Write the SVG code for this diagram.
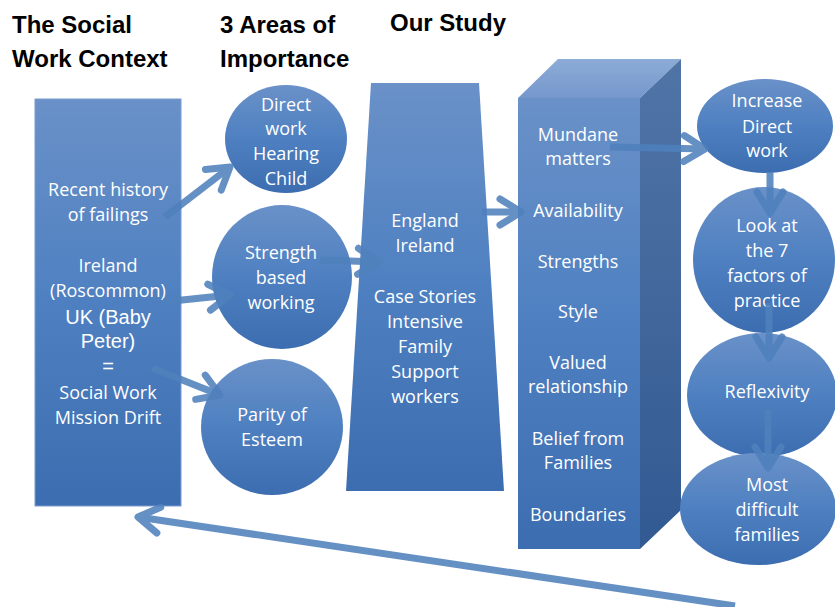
<svg xmlns="http://www.w3.org/2000/svg" width="835" height="607" viewBox="0 0 835 607">
<defs>
<linearGradient id="g" x1="0" y1="0" x2="0" y2="1">
<stop offset="0" stop-color="#6A91C8"/>
<stop offset="0.5" stop-color="#4E80C1"/>
<stop offset="1" stop-color="#3C6DB0"/>
</linearGradient>
<linearGradient id="gTop" x1="0" y1="0" x2="0" y2="1">
<stop offset="0" stop-color="#8CABD6"/>
<stop offset="1" stop-color="#7598CC"/>
</linearGradient>
<linearGradient id="gSide" x1="0" y1="0" x2="0" y2="1">
<stop offset="0" stop-color="#5074A6"/>
<stop offset="1" stop-color="#325A92"/>
</linearGradient>
<marker id="ah" markerUnits="userSpaceOnUse" markerWidth="40" markerHeight="40" viewBox="0 0 40 40" refX="32" refY="20" orient="auto">
<path d="M11,7 L32,20 L11,33" fill="none" stroke="#4F81BD" stroke-width="7" stroke-linecap="round" stroke-linejoin="round"/>
</marker>
<style>
.title{font-family:"Liberation Sans",Arial,sans-serif;font-weight:bold;font-size:24px;fill:#000}
.t{font-family:"Open Sans","Liberation Sans",sans-serif;font-size:18px;fill:#fff;text-anchor:middle}
.ta{font-family:"Liberation Sans",Arial,sans-serif;font-size:20px;fill:#fff;text-anchor:middle}
.shape{fill:url(#g)}
.conn line{stroke:#4F81BD;stroke-width:7;opacity:0.88;marker-end:url(#ah)}
</style>
</defs>
<rect width="835" height="607" fill="#fff"/>
<g id="titles">
<text class="title" x="12" y="33">The Social</text>
<text class="title" x="12" y="67">Work Context</text>
<text class="title" x="220" y="33">3 Areas of</text>
<text class="title" x="220" y="67">Importance</text>
<text class="title" x="390" y="31">Our Study</text>
</g>
<g id="context">
<rect class="shape" x="35" y="99" width="146" height="407" stroke="#7A9CD0" stroke-width="1"/>
<text class="t" x="108" y="196">Recent history</text>
<text class="t" x="108" y="221">of failings</text>
<text class="t" x="108" y="272">Ireland</text>
<text class="t" x="108" y="297">(Roscommon)</text>
<text class="ta" x="108" y="324">UK (Baby</text>
<text class="ta" x="108" y="348">Peter)</text>
<text class="ta" x="108" y="373">=</text>
<text class="t" x="108" y="399">Social Work</text>
<text class="t" x="108" y="424">Mission Drift</text>
</g>
<g id="direct">
<ellipse class="shape" cx="286" cy="139" rx="61" ry="54"/>
<text class="t" x="286" y="111">Direct</text>
<text class="t" x="286" y="135">work</text>
<text class="t" x="286" y="160">Hearing</text>
<text class="t" x="286" y="185">Child</text>
</g>
<g id="strength">
<ellipse class="shape" cx="282" cy="277" rx="70" ry="72"/>
<text class="t" x="281" y="259">Strength</text>
<text class="t" x="281" y="284">based</text>
<text class="t" x="281" y="309">working</text>
</g>
<g id="parity">
<ellipse class="shape" cx="272" cy="427" rx="71" ry="68"/>
<text class="t" x="272" y="421">Parity of</text>
<text class="t" x="272" y="446">Esteem</text>
</g>
<g id="study">
<polygon class="shape" points="371,83 479,83 504,491 346,491"/>
<text class="t" x="425" y="227">England</text>
<text class="t" x="425" y="252">Ireland</text>
<text class="t" x="425" y="303">Case Stories</text>
<text class="t" x="425" y="328">Intensive</text>
<text class="t" x="425" y="353">Family</text>
<text class="t" x="425" y="378">Support</text>
<text class="t" x="425" y="403">workers</text>
</g>
<g id="factors">
<polygon points="518,98 558,59 681,59 640,98" fill="url(#gTop)"/>
<polygon points="640,98 681,59 681,510 640,549" fill="url(#gSide)"/>
<rect class="shape" x="518" y="98" width="122" height="451"/>
<text class="t" x="578" y="141">Mundane</text>
<text class="t" x="578" y="165">matters</text>
<text class="t" x="578" y="217">Availability</text>
<text class="t" x="578" y="268">Strengths</text>
<text class="t" x="578" y="318">Style</text>
<text class="t" x="578" y="369">Valued</text>
<text class="t" x="578" y="393">relationship</text>
<text class="t" x="578" y="445">Belief from</text>
<text class="t" x="578" y="469">Families</text>
<text class="t" x="578" y="521">Boundaries</text>
</g>
<g id="increase">
<ellipse class="shape" cx="765" cy="126" rx="68" ry="47"/>
<text class="t" x="767" y="107">Increase</text>
<text class="t" x="767" y="133">Direct</text>
<text class="t" x="767" y="157">work</text>
</g>
<g id="lookat">
<ellipse class="shape" cx="764" cy="260" rx="71" ry="73"/>
<text class="t" x="767" y="232">Look at</text>
<text class="t" x="767" y="257">the 7</text>
<text class="t" x="767" y="282">factors of</text>
<text class="t" x="767" y="307">practice</text>
</g>
<g id="reflexivity">
<ellipse class="shape" cx="762" cy="395" rx="75" ry="62"/>
<text class="t" x="767" y="398">Reflexivity</text>
</g>
<g id="difficult">
<ellipse class="shape" cx="758" cy="509" rx="78" ry="56"/>
<text class="t" x="767" y="491">Most</text>
<text class="t" x="767" y="516">difficult</text>
<text class="t" x="767" y="541">families</text>
</g>
<g id="connectors" class="conn">
<line x1="165" y1="217" x2="230" y2="167"/>
<line x1="163" y1="302" x2="230" y2="295"/>
<line x1="152" y1="368" x2="220" y2="395"/>
<line x1="320" y1="260" x2="379" y2="262"/>
<line x1="482" y1="212" x2="521" y2="212"/>
<line x1="610" y1="147" x2="705" y2="149"/>
<line x1="770" y1="172" x2="770" y2="213"/>
<line x1="769" y1="303" x2="769" y2="358"/>
<line x1="768" y1="410" x2="768" y2="468"/>
<line x1="735" y1="606" x2="138" y2="517"/>
</g>
</svg>
